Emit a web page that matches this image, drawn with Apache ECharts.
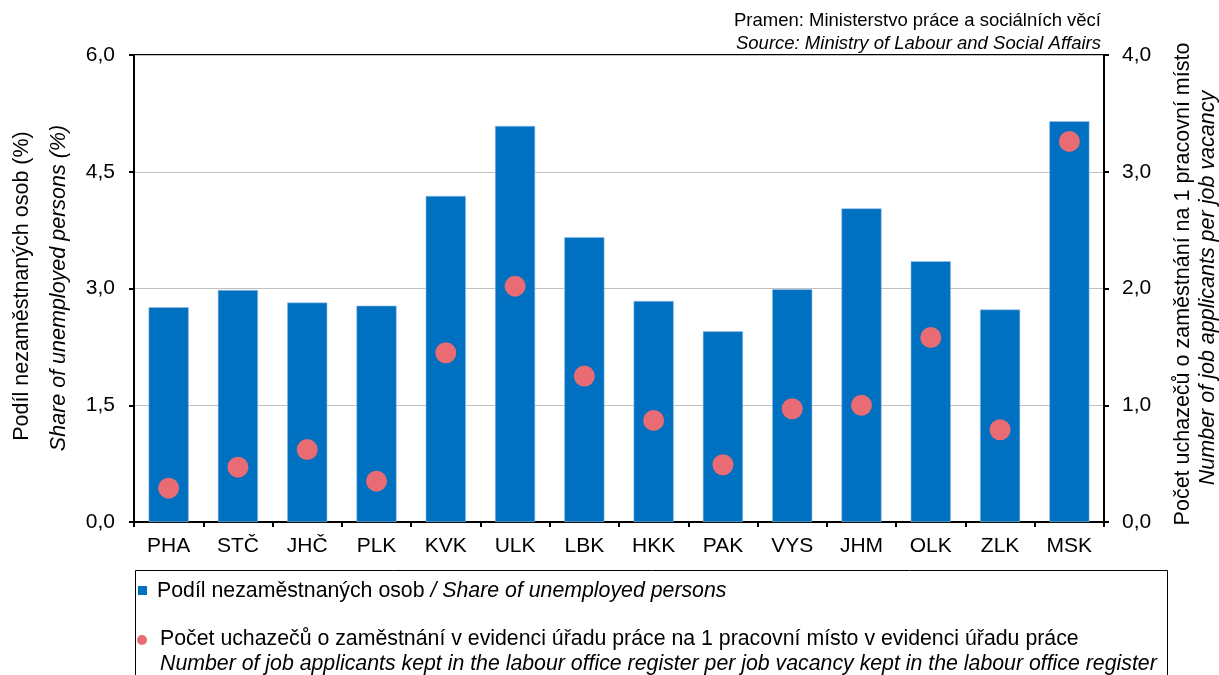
<!DOCTYPE html>
<html>
<head>
<meta charset="utf-8">
<script src="https://cdn.jsdelivr.net/npm/echarts@6/dist/echarts.min.js"></script>
<style>
html,body{margin:0;padding:0;background:#fff;}
#c{width:1219px;height:675px;}
</style>
</head>
<body>
<div id="c"></div>
<script>
var categories = ['PHA','STČ','JHČ','PLK','KVK','ULK','LBK','HKK','PAK','VYS','JHM','OLK','ZLK','MSK'];
var shareUnemployed = [2.76, 2.98, 2.82, 2.78, 4.19, 5.09, 3.66, 2.84, 2.45, 2.99, 4.03, 3.35, 2.73, 5.15];
var applicantsPerVacancy = [0.29, 0.47, 0.62, 0.35, 1.45, 2.02, 1.25, 0.87, 0.49, 0.97, 1.00, 1.58, 0.79, 3.26];
var leftTicks = {min: 0, max: 6, interval: 1.5};
var rightTicks = {min: 0, max: 4, interval: 1};

var FONT = '"Liberation Sans", Arial, sans-serif';
var chart = echarts.init(document.getElementById('c'));
function fmt(v){ return v.toFixed(1).replace('.', ','); }

chart.setOption({
  animation: false,
  backgroundColor: '#ffffff',
  grid: {left: 134, right: 115, top: 55, bottom: 153, show: true, borderColor: '#000', borderWidth: 2, backgroundColor: 'transparent'},
  xAxis: {
    type: 'category',
    data: categories,
    axisLine: {lineStyle: {color: '#000', width: 2}},
    axisTick: {show: true, length: 5, lineStyle: {color: '#000', width: 2}},
    axisLabel: {color: '#000', fontSize: 21, fontFamily: FONT, margin: 14}
  },
  yAxis: [{
    type: 'value', min: leftTicks.min, max: leftTicks.max, interval: leftTicks.interval,
    axisLine: {show: true, lineStyle: {color: '#000', width: 2}},
    axisTick: {show: true, length: 5, lineStyle: {color: '#000', width: 2}},
    axisLabel: {color: '#000', fontSize: 21, fontFamily: FONT, margin: 19, formatter: fmt},
    splitLine: {show: true, lineStyle: {color: '#c0c0c0', width: 1}}
  }, {
    type: 'value', position: 'right', min: rightTicks.min, max: rightTicks.max, interval: rightTicks.interval,
    axisLine: {show: true, lineStyle: {color: '#000', width: 2}},
    axisTick: {show: true, length: 5, lineStyle: {color: '#000', width: 2}},
    axisLabel: {color: '#000', fontSize: 21, fontFamily: FONT, margin: 18, formatter: fmt},
    splitLine: {show: false}
  }],
  series: [{
    name: 'Podíl nezaměstnaných osob',
    type: 'bar',
    data: shareUnemployed,
    barCategoryGap: '42%',
    itemStyle: {color: '#0070C0', borderColor: '#9dc3e6', borderWidth: 0.6},
    z: 2
  }, {
    name: 'Počet uchazečů',
    type: 'scatter',
    yAxisIndex: 1,
    data: applicantsPerVacancy,
    symbol: 'circle',
    symbolSize: 21,
    itemStyle: {color: '#E96B73', opacity: 1},
    z: 5
  }],
  graphic: [
    {type: 'text', x: 1101, y: 21, style: {text: 'Pramen: Ministerstvo práce a sociálních věcí', font: '18.5px ' + FONT, fill: '#000', align: 'right', verticalAlign: 'middle'}},
    {type: 'text', x: 1101, y: 44, style: {text: 'Source: Ministry of Labour and Social Affairs', font: 'italic 18.5px ' + FONT, fill: '#000', align: 'right', verticalAlign: 'middle'}},
    {type: 'text', x: 22, y: 286, rotation: Math.PI/2, style: {text: 'Podíl nezaměstnaných osob (%)', font: '21.5px ' + FONT, fill: '#000', align: 'center', verticalAlign: 'middle'}},
    {type: 'text', x: 59, y: 288, rotation: Math.PI/2, style: {text: 'Share of unemployed persons (%)', font: 'italic 21.5px ' + FONT, fill: '#000', align: 'center', verticalAlign: 'middle'}},
    {type: 'text', x: 1183, y: 284, rotation: Math.PI/2, style: {text: 'Počet uchazečů o zaměstnání na 1 pracovní místo', font: '21.5px ' + FONT, fill: '#000', align: 'center', verticalAlign: 'middle'}},
    {type: 'text', x: 1208, y: 288, rotation: Math.PI/2, style: {text: 'Number of job applicants per job vacancy', font: 'italic 21.5px ' + FONT, fill: '#000', align: 'center', verticalAlign: 'middle'}},
    {type: 'rect', shape: {x: 135.5, y: 570.5, width: 1032, height: 130}, style: {fill: 'none', stroke: '#000', lineWidth: 1}},
    {type: 'rect', shape: {x: 138, y: 586, width: 9, height: 9}, style: {fill: '#0070C0'}},
    {type: 'text', x: 157, y: 591, style: {text: '{a|Podíl nezaměstnaných osob\u00a0}{b|/ Share of unemployed persons}', verticalAlign: 'middle', rich: {a: {font: '21.3px ' + FONT, fill: '#000'}, b: {font: 'italic 21.3px ' + FONT, fill: '#000'}}}},
    {type: 'circle', shape: {cx: 142, cy: 640, r: 5}, style: {fill: '#E96B73'}},
    {type: 'text', x: 160, y: 639, style: {text: 'Počet uchazečů o zaměstnání v evidenci úřadu práce na 1 pracovní místo v evidenci úřadu práce', font: '21.3px ' + FONT, fill: '#000', verticalAlign: 'middle'}},
    {type: 'text', x: 160, y: 664, style: {text: 'Number of job applicants kept in the labour office register per job vacancy kept in the labour office register', font: 'italic 21.3px ' + FONT, fill: '#000', verticalAlign: 'middle'}}
  ]
});
</script>
</body>
</html>
